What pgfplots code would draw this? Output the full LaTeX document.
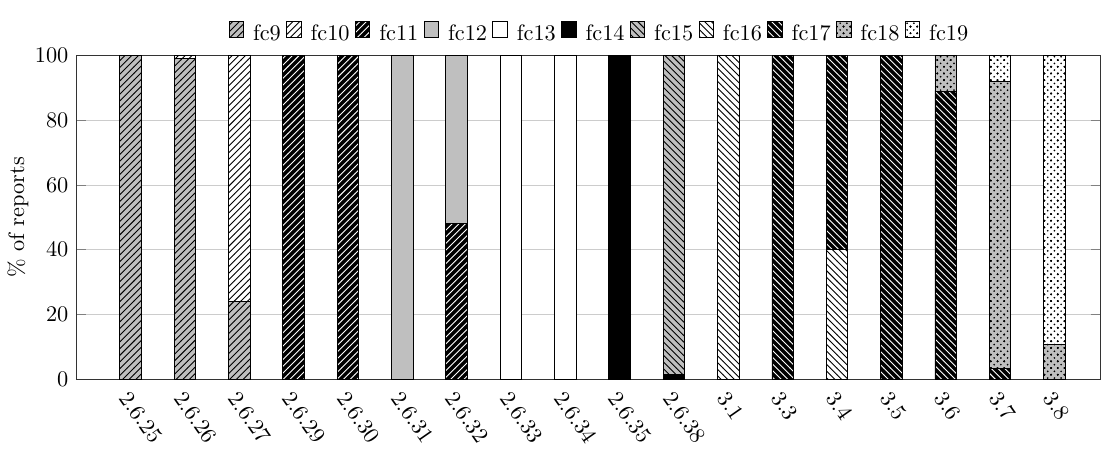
\documentclass[border=0pt]{standalone}
\usepackage{pgfplots}
\pgfplotsset{compat=1.18}
\usetikzlibrary{patterns}
\pgfdeclarepatternformonly{sdots}{\pgfqpoint{-1pt}{-1pt}}{\pgfqpoint{4pt}{4pt}}{\pgfqpoint{3pt}{3pt}}{%
  \pgfpathcircle{\pgfqpoint{0pt}{0pt}}{.42pt}
  \pgfpathcircle{\pgfqpoint{1.5pt}{1.5pt}}{.42pt}
  \pgfpathcircle{\pgfqpoint{3pt}{3pt}}{.42pt}
  \pgfpathcircle{\pgfqpoint{3pt}{0pt}}{.42pt}
  \pgfpathcircle{\pgfqpoint{0pt}{3pt}}{.42pt}
  \pgfusepath{fill}}
\begin{document}
\begin{tikzpicture}
\begin{axis}[
  name=ax,
  scale only axis,
  width=459pt, height=145pt,
  ybar stacked,
  bar width=9.6pt,
  ymin=0, ymax=100,
  xmin=-1, xmax=17.85,
  xtick={0,...,17},
  xticklabels={2.6.25,2.6.26,2.6.27,2.6.29,2.6.30,2.6.31,2.6.32,2.6.33,2.6.34,2.6.35,2.6.38,3.1,3.3,3.4,3.5,3.6,3.7,3.8},
  x tick label style={xshift=0.5pt, yshift=-3pt, rotate=-55, anchor=north west, inner sep=1pt},
  xtick style={draw=none},
  ytick={0,20,40,60,80,100},
  ymajorgrids,
  grid style={gray!40},
  axis line style={black!80},
  ylabel={\% of reports},
  ylabel style={yshift=-4pt},
  legend style={at={(0.512,1.015)}, anchor=south, draw=none, legend columns=-1, inner sep=1pt,
    /tikz/every odd column/.append style={column sep=2pt},
    /tikz/every even column/.append style={column sep=0.4pt}},
  legend image code/.code={\draw[#1] (0pt,-1.5pt) rectangle (6.5pt,5.5pt);},
  every axis plot/.append style={draw=black},
]
% order: 2.6.25,2.6.26,2.6.27,2.6.29,2.6.30,2.6.31,2.6.32,2.6.33,2.6.34,2.6.35,2.6.38,3.1,3.3,3.4,3.5,3.6,3.7,3.8
\addplot[fill=lightgray, postaction={pattern=north east lines}] coordinates {(0,100) (1,99) (2,24) (3,0) (4,0) (5,0) (6,0) (7,0) (8,0) (9,0) (10,0) (11,0) (12,0) (13,0) (14,0) (15,0) (16,0) (17,0)};
\addplot[fill=white, postaction={pattern=north east lines}] coordinates {(0,0) (1,1) (2,76) (3,0) (4,0) (5,0) (6,0) (7,0) (8,0) (9,0) (10,0) (11,0) (12,0) (13,0) (14,0) (15,0) (16,0) (17,0)};
\addplot[fill=black, postaction={pattern=north east lines, pattern color=white}] coordinates {(0,0) (1,0) (2,0) (3,100) (4,100) (5,0) (6,48) (7,0) (8,0) (9,0) (10,0) (11,0) (12,0) (13,0) (14,0) (15,0) (16,0) (17,0)};
\addplot[fill=lightgray] coordinates {(0,0) (1,0) (2,0) (3,0) (4,0) (5,100) (6,52) (7,0) (8,0) (9,0) (10,0) (11,0) (12,0) (13,0) (14,0) (15,0) (16,0) (17,0)};
\addplot[fill=white] coordinates {(0,0) (1,0) (2,0) (3,0) (4,0) (5,0) (6,0) (7,100) (8,100) (9,0) (10,0) (11,0) (12,0) (13,0) (14,0) (15,0) (16,0) (17,0)};
\addplot[fill=black] coordinates {(0,0) (1,0) (2,0) (3,0) (4,0) (5,0) (6,0) (7,0) (8,0) (9,100) (10,1.5) (11,0) (12,0) (13,0) (14,0) (15,0) (16,0) (17,0)};
\addplot[fill=lightgray, postaction={pattern=north west lines}] coordinates {(0,0) (1,0) (2,0) (3,0) (4,0) (5,0) (6,0) (7,0) (8,0) (9,0) (10,98.5) (11,0) (12,0) (13,0) (14,0) (15,0) (16,0) (17,0)};
\addplot[fill=white, postaction={pattern=north west lines}] coordinates {(0,0) (1,0) (2,0) (3,0) (4,0) (5,0) (6,0) (7,0) (8,0) (9,0) (10,0) (11,100) (12,0) (13,40) (14,0) (15,0) (16,0) (17,0)};
\addplot[fill=black, postaction={pattern=north west lines, pattern color=white}] coordinates {(0,0) (1,0) (2,0) (3,0) (4,0) (5,0) (6,0) (7,0) (8,0) (9,0) (10,0) (11,0) (12,100) (13,60) (14,100) (15,89) (16,3.2) (17,0)};
\addplot[fill=lightgray, postaction={pattern=sdots}] coordinates {(0,0) (1,0) (2,0) (3,0) (4,0) (5,0) (6,0) (7,0) (8,0) (9,0) (10,0) (11,0) (12,0) (13,0) (14,0) (15,11) (16,88.9) (17,10.6)};
\addplot[fill=white, postaction={pattern=sdots}] coordinates {(0,0) (1,0) (2,0) (3,0) (4,0) (5,0) (6,0) (7,0) (8,0) (9,0) (10,0) (11,0) (12,0) (13,0) (14,0) (15,0) (16,7.9) (17,89.4)};
\legend{fc9,fc10,fc11,fc12,fc13,fc14,fc15,fc16,fc17,fc18,fc19}
\end{axis}
\path ([yshift=24.9pt]ax.north west) ([yshift=-28.6pt]ax.south east);
\end{tikzpicture}
\end{document}
